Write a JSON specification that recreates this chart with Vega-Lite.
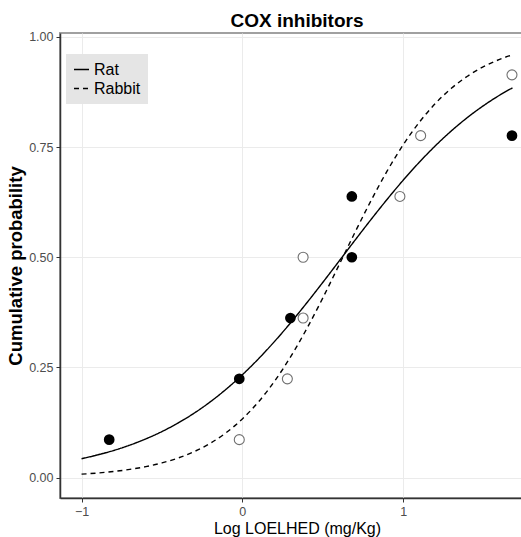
{
  "$schema": "https://vega.github.io/schema/vega-lite/v6.json",
  "autosize": {"type": "none"},
  "padding": {"left": 60, "top": 33, "right": 0, "bottom": 39},
  "width": 474,
  "height": 465,
  "background": "white",
  "config": {
    "font": "Liberation Sans",
    "view": {"stroke": "#a0a0a0", "strokeWidth": 2},
    "axis": {
      "gridColor": "#ebebeb",
      "gridWidth": 1,
      "domainColor": "#333333",
      "domainWidth": 1.5,
      "tickColor": "#333333",
      "tickSize": 4,
      "labelColor": "#4d4d4d",
      "labelFontSize": 12.5,
      "labelFont": "Liberation Sans",
      "titleFont": "Liberation Sans",
      "titleColor": "black"
    }
  },
  "title": {
    "text": "COX inhibitors",
    "fontSize": 19,
    "fontWeight": "bold",
    "font": "Liberation Sans",
    "anchor": "middle",
    "offset": 0,
    "color": "black"
  },
  "datasets": {
    "curves": [
      {"species": "Rat", "x": -1.0, "y": 0.0427},
      {"species": "Rat", "x": -0.9, "y": 0.0513},
      {"species": "Rat", "x": -0.8, "y": 0.0614},
      {"species": "Rat", "x": -0.7, "y": 0.0735},
      {"species": "Rat", "x": -0.6, "y": 0.0877},
      {"species": "Rat", "x": -0.5, "y": 0.1043},
      {"species": "Rat", "x": -0.4, "y": 0.1237},
      {"species": "Rat", "x": -0.3, "y": 0.1460},
      {"species": "Rat", "x": -0.2, "y": 0.1716},
      {"species": "Rat", "x": -0.1, "y": 0.2007},
      {"species": "Rat", "x": 0.0, "y": 0.2332},
      {"species": "Rat", "x": 0.1, "y": 0.2693},
      {"species": "Rat", "x": 0.2, "y": 0.3087},
      {"species": "Rat", "x": 0.3, "y": 0.3511},
      {"species": "Rat", "x": 0.4, "y": 0.3960},
      {"species": "Rat", "x": 0.5, "y": 0.4427},
      {"species": "Rat", "x": 0.6, "y": 0.4904},
      {"species": "Rat", "x": 0.7, "y": 0.5383},
      {"species": "Rat", "x": 0.8, "y": 0.5855},
      {"species": "Rat", "x": 0.9, "y": 0.6312},
      {"species": "Rat", "x": 1.0, "y": 0.6747},
      {"species": "Rat", "x": 1.1, "y": 0.7154},
      {"species": "Rat", "x": 1.2, "y": 0.7528},
      {"species": "Rat", "x": 1.3, "y": 0.7868},
      {"species": "Rat", "x": 1.4, "y": 0.8172},
      {"species": "Rat", "x": 1.5, "y": 0.8441},
      {"species": "Rat", "x": 1.6, "y": 0.8678},
      {"species": "Rat", "x": 1.68, "y": 0.8845},
      {"species": "Rabbit", "x": -1.0, "y": 0.0076},
      {"species": "Rabbit", "x": -0.9, "y": 0.0102},
      {"species": "Rabbit", "x": -0.8, "y": 0.0137},
      {"species": "Rabbit", "x": -0.7, "y": 0.0184},
      {"species": "Rabbit", "x": -0.6, "y": 0.0247},
      {"species": "Rabbit", "x": -0.5, "y": 0.0331},
      {"species": "Rabbit", "x": -0.4, "y": 0.0442},
      {"species": "Rabbit", "x": -0.3, "y": 0.0587},
      {"species": "Rabbit", "x": -0.2, "y": 0.0776},
      {"species": "Rabbit", "x": -0.1, "y": 0.1020},
      {"species": "Rabbit", "x": 0.0, "y": 0.1330},
      {"species": "Rabbit", "x": 0.1, "y": 0.1715},
      {"species": "Rabbit", "x": 0.2, "y": 0.2184},
      {"species": "Rabbit", "x": 0.3, "y": 0.2739},
      {"species": "Rabbit", "x": 0.4, "y": 0.3374},
      {"species": "Rabbit", "x": 0.5, "y": 0.4073},
      {"species": "Rabbit", "x": 0.6, "y": 0.4813},
      {"species": "Rabbit", "x": 0.7, "y": 0.5560},
      {"species": "Rabbit", "x": 0.8, "y": 0.6283},
      {"species": "Rabbit", "x": 0.9, "y": 0.6953},
      {"species": "Rabbit", "x": 1.0, "y": 0.7549},
      {"species": "Rabbit", "x": 1.1, "y": 0.8061},
      {"species": "Rabbit", "x": 1.2, "y": 0.8488},
      {"species": "Rabbit", "x": 1.3, "y": 0.8834},
      {"species": "Rabbit", "x": 1.4, "y": 0.9109},
      {"species": "Rabbit", "x": 1.5, "y": 0.9325},
      {"species": "Rabbit", "x": 1.6, "y": 0.9491},
      {"species": "Rabbit", "x": 1.68, "y": 0.9595}
    ],
    "points": [
      {"species": "Rat", "x": -0.828, "y": 0.086},
      {"species": "Rat", "x": -0.019, "y": 0.224},
      {"species": "Rat", "x": 0.299, "y": 0.362},
      {"species": "Rat", "x": 0.681, "y": 0.5},
      {"species": "Rat", "x": 0.681, "y": 0.638},
      {"species": "Rat", "x": 1.677, "y": 0.776},
      {"species": "Rabbit", "x": -0.019, "y": 0.086},
      {"species": "Rabbit", "x": 0.28, "y": 0.224},
      {"species": "Rabbit", "x": 0.378, "y": 0.362},
      {"species": "Rabbit", "x": 0.378, "y": 0.5},
      {"species": "Rabbit", "x": 0.98, "y": 0.638},
      {"species": "Rabbit", "x": 1.109, "y": 0.776},
      {"species": "Rabbit", "x": 1.677, "y": 0.914}
    ]
  },
  "encoding": {
    "x": {
      "field": "x",
      "type": "quantitative",
      "scale": {"domain": [-1.134, 1.814], "nice": false, "zero": false},
      "axis": {
        "values": [-1, 0, 1],
        "format": "d",
        "title": "Log LOELHED (mg/Kg)",
        "titleFontSize": 16,
        "titleFontWeight": "normal",
        "titlePadding": 3,
        "labelPadding": 3
      }
    },
    "y": {
      "field": "y",
      "type": "quantitative",
      "scale": {"domain": [-0.0465, 1.009], "nice": false, "zero": false},
      "axis": {
        "values": [0, 0.25, 0.5, 0.75, 1],
        "format": ".2f",
        "title": "Cumulative probability",
        "titleFontSize": 18.5,
        "titleFontWeight": "bold",
        "titlePadding": 3,
        "labelPadding": 3
      }
    }
  },
  "layer": [
    {
      "data": {"name": "curves"},
      "mark": {"type": "line", "interpolate": "monotone", "color": "black", "strokeWidth": 1.4},
      "encoding": {
        "detail": {"field": "species"},
        "strokeDash": {
          "field": "species",
          "type": "nominal",
          "scale": {"domain": ["Rat", "Rabbit"], "range": [[1, 0], [5, 4]]},
          "legend": {
            "title": null,
            "orient": "none",
            "legendX": 6,
            "legendY": 21,
            "fillColor": "#e5e5e5",
            "padding": 7,
            "labelFontSize": 16,
            "labelColor": "black",
            "labelFont": "Liberation Sans",
            "symbolType": "stroke",
            "symbolSize": 225,
            "symbolStrokeWidth": 1.5,
            "symbolStrokeColor": "black",
            "labelOffset": 4,
            "rowPadding": 2
          }
        }
      }
    },
    {
      "data": {"name": "points"},
      "transform": [{"filter": "datum.species === 'Rat'"}],
      "mark": {"type": "point", "shape": "circle", "filled": true, "color": "black", "size": 115, "opacity": 1}
    },
    {
      "data": {"name": "points"},
      "transform": [{"filter": "datum.species === 'Rabbit'"}],
      "mark": {"type": "point", "shape": "circle", "filled": false, "fill": "white", "stroke": "#707070", "strokeWidth": 1.1, "size": 100, "opacity": 1}
    }
  ]
}
